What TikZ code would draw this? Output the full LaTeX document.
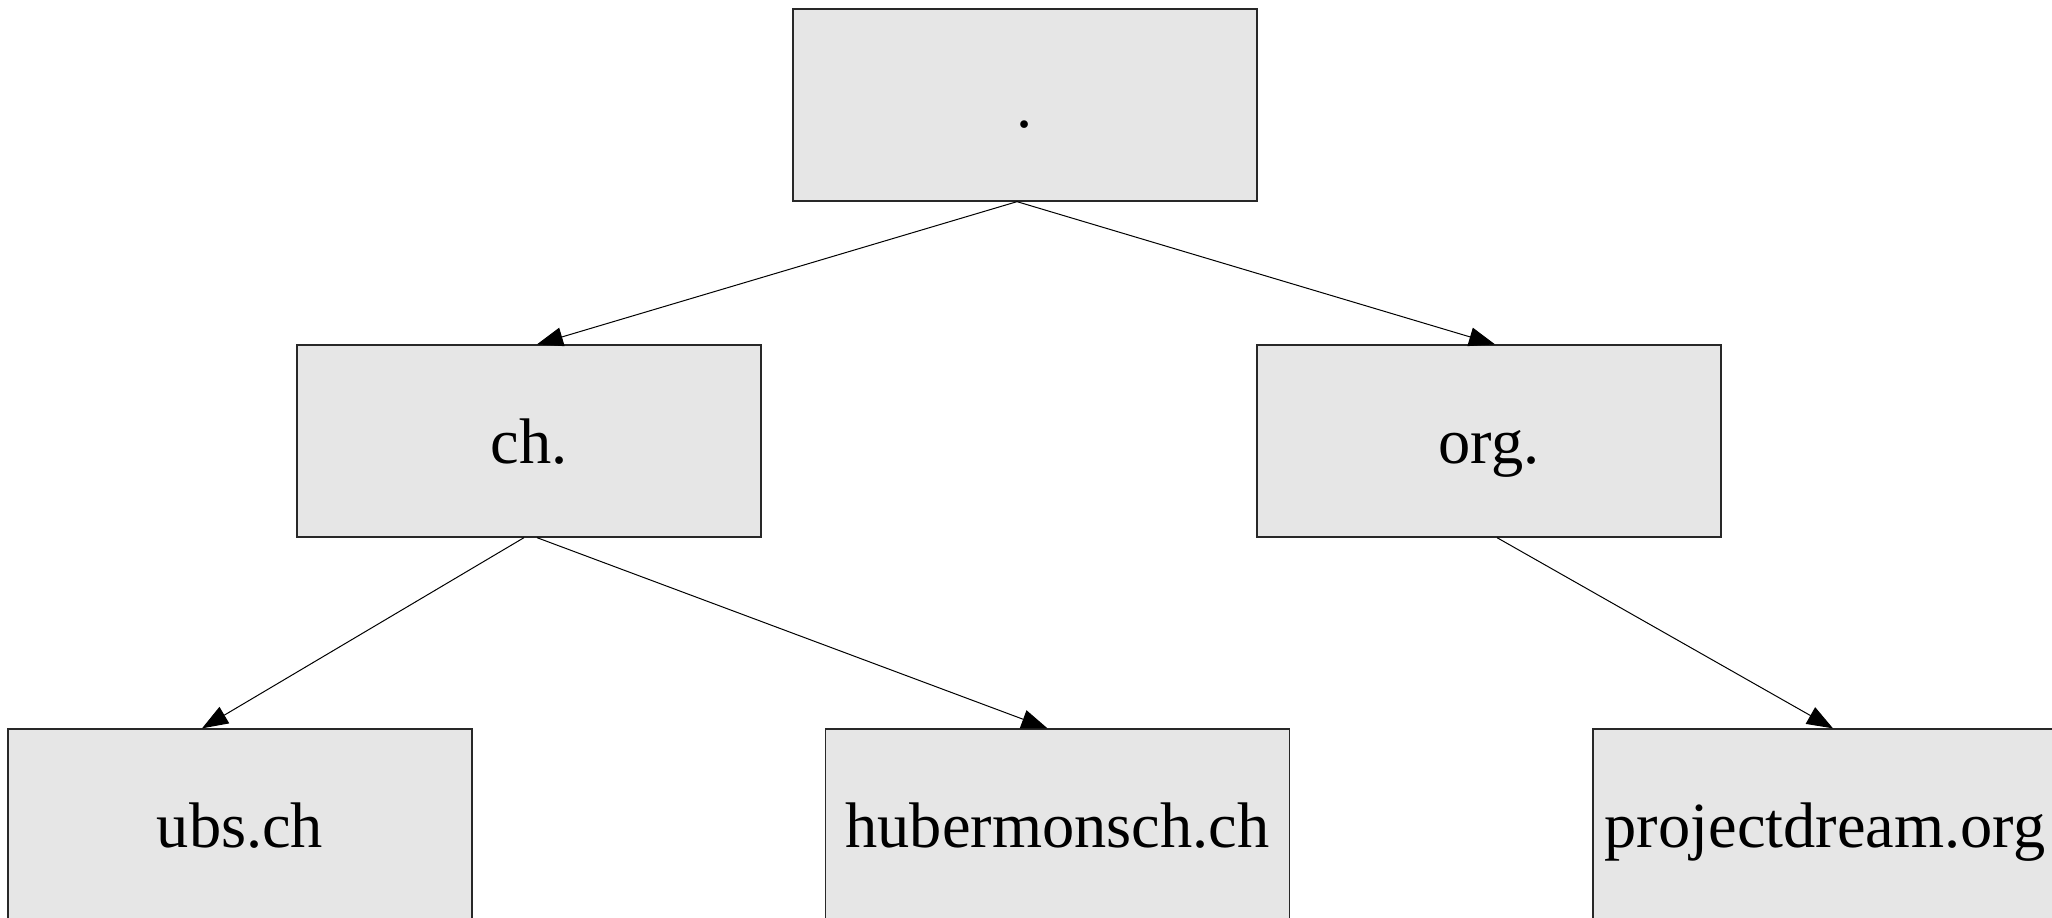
\documentclass[tikz,border=0pt]{standalone}
\usepackage{fontspec}
\setmainfont{Liberation Serif}
\usetikzlibrary{arrows.meta}
\definecolor{boxfill}{RGB}{230,230,230}
\definecolor{boxline}{RGB}{40,40,40}
\begin{document}
\begin{tikzpicture}[x=0.5pt,y=-0.5pt,
  dnsbox/.style={draw=boxline,line width=0.65pt,fill=boxfill,rectangle,
    minimum width=232pt,minimum height=96pt,inner sep=0pt,
    font=\fontsize{32.2}{38}\selectfont,text height=22pt,text depth=0pt},
  link/.style={line width=0.5pt,-{Triangle[length=13pt,width=9.5pt]}}]
\useasboundingbox (0,0) rectangle (2052,917);
\clip (0,0) rectangle (2052,917);
\node[dnsbox] (root) at (1025,105) {.};
\node[dnsbox] (ch) at (529,441) {ch.};
\node[dnsbox] (org) at (1489,441) {org.};
\node[dnsbox] (ubs) at (240,825) {ubs.ch};
\node[dnsbox] (huber) at (1057.5,825) {hubermonsch.ch};
\node[dnsbox] (proj) at (1825,825) {projectdream.org};
\draw[link] ([xshift=-4pt]root.south) -- ([xshift=4pt]ch.north);
\draw[link] ([xshift=-4pt]root.south) -- ([xshift=3pt]org.north);
\draw[link] ([xshift=-2.5pt]ch.south) -- ([xshift=-19pt]ubs.north);
\draw[link] ([xshift=4pt]ch.south) -- ([xshift=-5pt]huber.north);
\draw[link] ([xshift=4pt]org.south) -- ([xshift=4pt]proj.north);
\end{tikzpicture}
\end{document}
